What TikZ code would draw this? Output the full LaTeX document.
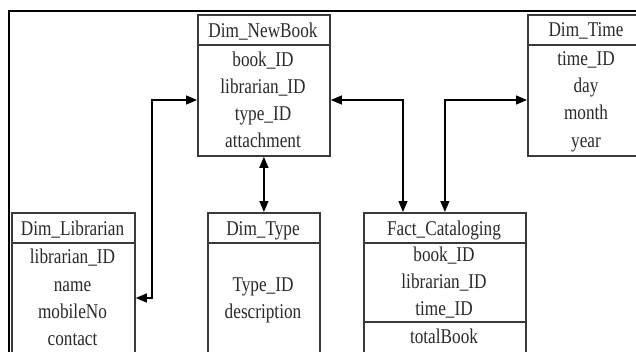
\documentclass[tikz,border=0pt]{standalone}
\usepackage{fontspec}
\setmainfont{Liberation Serif}[FakeStretch=0.82]
\usetikzlibrary{arrows.meta,calc}
\definecolor{boxgray}{HTML}{3A3A3A}
\definecolor{txtgray}{HTML}{2A2A2A}
\tikzset{
  tbox/.style={draw=boxgray,line width=1.8pt,rectangle,inner sep=0pt,anchor=north west},
  sep/.style={draw=boxgray,line width=1.8pt},
  txt/.style={inner sep=0pt,anchor=base,text=txtgray,font=\fontsize{21}{24}\selectfont},
  link/.style={draw=black,line width=1.3pt,{Triangle[length=11pt,width=9pt]}-{Triangle[length=11pt,width=9pt]}},
  frame/.style={draw=black,line width=2pt}
}
\begin{document}
\begin{tikzpicture}[x=1pt,y=-1pt]
\useasboundingbox (0,0) rectangle (636,351);
\clip (0,0) rectangle (636,351);
\fill[white] (0,0) rectangle (636,351);
% outer frame
\draw[frame] (9,400) -- (9,11) -- (700,11);
% boxes
\node[tbox,minimum width=132pt,minimum height=141pt] (nb) at (197,14) {};
\node[tbox,minimum width=118pt,minimum height=141pt] (tm) at (527,14) {};
\node[tbox,minimum width=123pt,minimum height=170pt] (lib) at (11,212) {};
\node[tbox,minimum width=112pt,minimum height=170pt] (ty) at (207,212) {};
\node[tbox,minimum width=162pt,minimum height=170pt] (fc) at (363,212) {};
% header separators
\draw[sep] ($(nb.north west)+(0,31)$) -- ($(nb.north east)+(0,31)$);
\draw[sep] ($(tm.north west)+(0,31)$) -- ($(tm.north east)+(0,31)$);
\draw[sep] ($(lib.north west)+(0,31)$) -- ($(lib.north east)+(0,31)$);
\draw[sep] ($(ty.north west)+(0,31)$) -- ($(ty.north east)+(0,31)$);
\draw[sep] ($(fc.north west)+(0,31)$) -- ($(fc.north east)+(0,31)$);
\draw[sep] ($(fc.north west)+(0,110)$) -- ($(fc.north east)+(0,110)$);
% texts Dim_NewBook
\node[txt] (nb0) at (263,37) {Dim\_NewBook};
\node[txt] (nb1) at (263,66) {book\_ID};
\node[txt] (nb2) at (263,93) {librarian\_ID};
\node[txt] (nb3) at (263,120) {type\_ID};
\node[txt] (nb4) at (263,147) {attachment};
% Dim_Time
\node[txt] (tm0) at (586,36) {Dim\_Time};
\node[txt] (tm1) at (586,65) {time\_ID};
\node[txt] (tm2) at (586,92) {day};
\node[txt] (tm3) at (586,119) {month};
\node[txt] (tm4) at (586,147) {year};
% Dim_Librarian
\node[txt] (lib0) at (72.5,235) {Dim\_Librarian};
\node[txt] (lib1) at (72.5,263) {librarian\_ID};
\node[txt] (lib2) at (72.5,291) {name};
\node[txt] (lib3) at (72.5,318) {mobileNo};
\node[txt] (lib4) at (72.5,345) {contact};
% Dim_Type
\node[txt] (ty0) at (263,235) {Dim\_Type};
\node[txt] (ty1) at (263,291) {Type\_ID};
\node[txt] (ty2) at (263,318) {description};
% Fact_Cataloging
\node[txt] (fc0) at (444,235) {Fact\_Cataloging};
\node[txt] (fc1) at (444,261) {book\_ID};
\node[txt] (fc2) at (444,288) {librarian\_ID};
\node[txt] (fc3) at (444,315) {time\_ID};
\node[txt] (fc4) at (444,343) {totalBook};
% connectors
\coordinate (b1) at (152,100);
\coordinate (b2) at (152,298);
\coordinate (b3) at (403,100);
\draw[link] (nb.west |- b1) -| (b2) -- (lib.east |- b2);
\draw[link] (nb.south) -- (ty.north);
\draw[link] (nb.east |- b1) -| (fc.north -| b3);
\draw[link] (fc.north) |- (tm.west |- b1);
\end{tikzpicture}
\end{document}
